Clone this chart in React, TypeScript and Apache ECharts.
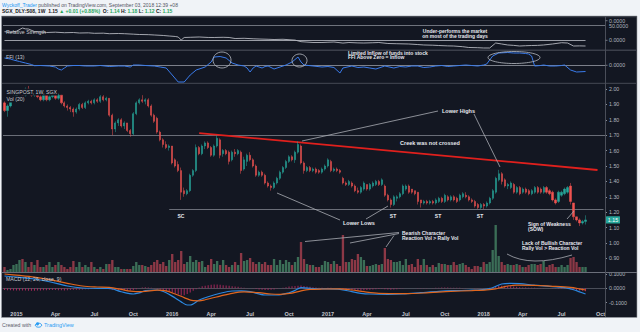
import React, { useEffect, useRef } from 'react';
import * as echarts from 'echarts';

// ---------- DATA ----------
const START_UTC = Date.UTC(2014, 11, 8); // first weekly bar (Mon 8 Dec 2014)
const WEEK_COUNT = 201; // bars up to late Aug 2018 + empty space to Oct 2018
const MONTHS = ['Jan', 'Feb', 'Mar', 'Apr', 'May', 'Jun', 'Jul', 'Aug', 'Sep', 'Oct', 'Nov', 'Dec'];

// weekly candles: [open, close, low, high]
const candles: number[][] = [
  [1.91,1.86,1.85,1.92],[1.86,1.89,1.82,1.90],[1.89,1.93,1.88,1.94],[1.93,1.95,1.92,1.96],[1.95,1.97,1.94,1.98],
  [1.97,1.99,1.96,2.00],[1.99,1.96,1.95,2.00],[1.96,2.00,1.95,2.01],[2.00,1.98,1.97,2.02],[1.98,1.96,1.95,1.99],
  [1.96,1.98,1.95,1.99],[1.98,1.95,1.94,1.99],[1.95,1.93,1.92,1.97],[1.93,1.96,1.92,1.97],[1.96,1.93,1.92,1.97],
  [1.93,1.95,1.92,1.96],[1.95,1.96,1.94,1.97],[1.96,1.94,1.93,1.97],[1.94,1.96,1.93,1.97],[1.96,1.91,1.90,1.96],
  [1.91,1.89,1.88,1.92],[1.89,1.88,1.86,1.90],[1.88,1.87,1.85,1.89],[1.87,1.85,1.82,1.88],[1.85,1.87,1.84,1.88],
  [1.87,1.90,1.86,1.91],[1.90,1.88,1.87,1.91],[1.88,1.91,1.87,1.92],[1.91,1.92,1.90,1.93],[1.92,1.91,1.90,1.93],
  [1.91,1.93,1.90,1.94],[1.93,1.92,1.91,1.94],[1.92,1.95,1.91,1.96],[1.95,1.93,1.92,1.96],[1.93,1.94,1.92,1.95],
  [1.94,1.83,1.82,1.94],[1.83,1.74,1.70,1.84],[1.74,1.78,1.72,1.79],[1.78,1.80,1.76,1.81],[1.80,1.76,1.75,1.81],
  [1.76,1.78,1.74,1.79],[1.78,1.73,1.72,1.78],[1.73,1.71,1.69,1.74],[1.71,1.84,1.70,1.85],[1.84,1.91,1.83,1.92],
  [1.91,1.93,1.90,1.94],[1.93,1.92,1.91,1.96],[1.92,1.93,1.90,1.94],[1.93,1.89,1.88,1.94],[1.89,1.83,1.82,1.90],
  [1.83,1.79,1.78,1.84],[1.81,1.72,1.71,1.82],[1.72,1.67,1.66,1.73],[1.67,1.64,1.62,1.68],[1.64,1.62,1.61,1.66],
  [1.62,1.63,1.60,1.64],[1.63,1.52,1.51,1.63],[1.54,1.50,1.49,1.55],[1.51,1.47,1.46,1.53],[1.47,1.33,1.28,1.49],
  [1.34,1.32,1.30,1.36],[1.32,1.34,1.31,1.35],[1.34,1.44,1.33,1.45],[1.44,1.47,1.43,1.48],[1.47,1.62,1.46,1.64],
  [1.62,1.58,1.57,1.63],[1.58,1.63,1.57,1.64],[1.63,1.65,1.61,1.66],[1.65,1.62,1.61,1.66],[1.62,1.57,1.56,1.63],
  [1.57,1.63,1.56,1.64],[1.63,1.68,1.62,1.70],[1.67,1.57,1.55,1.68],[1.58,1.60,1.56,1.61],[1.60,1.58,1.57,1.61],
  [1.59,1.53,1.51,1.60],[1.54,1.59,1.53,1.60],[1.59,1.58,1.56,1.61],[1.58,1.60,1.57,1.61],[1.59,1.47,1.45,1.60],
  [1.48,1.54,1.47,1.56],[1.53,1.57,1.50,1.58],[1.57,1.54,1.53,1.59],[1.54,1.50,1.49,1.55],[1.50,1.44,1.43,1.51],
  [1.44,1.46,1.43,1.47],[1.46,1.44,1.43,1.47],[1.44,1.39,1.38,1.45],[1.39,1.37,1.36,1.40],[1.37,1.36,1.34,1.38],
  [1.36,1.39,1.35,1.40],[1.39,1.42,1.38,1.43],[1.42,1.46,1.41,1.47],[1.46,1.49,1.45,1.50],[1.49,1.53,1.48,1.54],
  [1.53,1.56,1.52,1.57],[1.56,1.54,1.53,1.57],[1.54,1.59,1.52,1.60],[1.59,1.64,1.58,1.66],[1.63,1.52,1.51,1.64],
  [1.52,1.47,1.45,1.53],[1.47,1.49,1.46,1.50],[1.49,1.47,1.46,1.50],[1.47,1.48,1.46,1.49],[1.48,1.46,1.45,1.49],
  [1.47,1.46,1.45,1.48],[1.46,1.48,1.45,1.49],[1.48,1.50,1.47,1.51],[1.50,1.54,1.49,1.55],[1.53,1.47,1.46,1.54],
  [1.47,1.48,1.46,1.49],[1.48,1.47,1.46,1.49],[1.47,1.46,1.45,1.48],[1.42,1.39,1.38,1.43],[1.39,1.38,1.37,1.40],
  [1.38,1.40,1.37,1.41],[1.39,1.37,1.36,1.40],[1.37,1.34,1.33,1.38],[1.34,1.33,1.32,1.36],[1.33,1.36,1.32,1.37],
  [1.35,1.39,1.34,1.40],[1.38,1.35,1.34,1.38],[1.35,1.38,1.34,1.39],[1.37,1.39,1.36,1.40],[1.38,1.40,1.37,1.41],
  [1.40,1.38,1.37,1.41],[1.38,1.41,1.37,1.42],[1.37,1.31,1.30,1.38],[1.31,1.28,1.27,1.32],[1.28,1.25,1.23,1.29],
  [1.25,1.30,1.24,1.31],[1.29,1.30,1.27,1.31],[1.30,1.32,1.29,1.33],[1.32,1.37,1.31,1.38],[1.35,1.37,1.34,1.38],
  [1.37,1.33,1.32,1.38],[1.35,1.33,1.32,1.35],[1.34,1.32,1.31,1.34],[1.33,1.27,1.25,1.33],[1.28,1.26,1.23,1.28],
  [1.26,1.27,1.25,1.28],[1.27,1.26,1.25,1.28],[1.26,1.27,1.25,1.28],[1.27,1.26,1.25,1.28],[1.26,1.28,1.25,1.29],
  [1.27,1.29,1.26,1.30],[1.29,1.27,1.26,1.30],[1.27,1.31,1.26,1.32],[1.30,1.28,1.27,1.31],[1.28,1.30,1.27,1.31],
  [1.30,1.28,1.27,1.31],[1.29,1.27,1.26,1.30],[1.28,1.31,1.27,1.32],[1.30,1.32,1.29,1.33],[1.31,1.30,1.29,1.33],
  [1.30,1.28,1.27,1.31],[1.28,1.27,1.26,1.29],[1.27,1.24,1.23,1.28],[1.25,1.23,1.22,1.26],[1.23,1.25,1.22,1.26],
  [1.25,1.24,1.22,1.26],[1.24,1.26,1.23,1.27],[1.26,1.29,1.25,1.30],[1.29,1.34,1.28,1.35],[1.33,1.42,1.32,1.43],
  [1.41,1.45,1.40,1.475],[1.45,1.40,1.38,1.46],[1.41,1.37,1.36,1.42],[1.37,1.38,1.35,1.39],[1.36,1.39,1.35,1.40],
  [1.38,1.33,1.32,1.39],[1.33,1.36,1.32,1.37],[1.36,1.32,1.31,1.37],[1.33,1.35,1.32,1.36],[1.35,1.33,1.32,1.36],
  [1.34,1.32,1.31,1.35],[1.32,1.34,1.31,1.35],[1.33,1.36,1.32,1.37],[1.36,1.33,1.32,1.37],[1.35,1.33,1.32,1.36],
  [1.33,1.36,1.32,1.37],[1.36,1.33,1.32,1.37],[1.34,1.32,1.31,1.35],[1.33,1.28,1.27,1.34],[1.28,1.26,1.25,1.29],
  [1.27,1.33,1.26,1.34],[1.31,1.33,1.30,1.34],[1.32,1.35,1.31,1.36],[1.33,1.36,1.32,1.37],[1.37,1.27,1.25,1.39],
  [1.26,1.17,1.15,1.26],[1.17,1.15,1.14,1.17],[1.15,1.13,1.11,1.16],[1.13,1.14,1.12,1.15],[1.14,1.15,1.12,1.18],
];

// weekly volume (millions of shares)
const volume: number[] = [
  5,2,3,7,8,12,13,10,5,10, 7,12,5,5,7,10,5,7,10,7, 5,3,5,11,5,10,5,7,5,10, 5,3,5,3,8,8,12,5,5,3,
  3,3,3,6,10,7,7,6,5,7, 10,12,8,10,6,12,18,10,12,21, 8,10,16,10,12,10,11,5,7,13, 8,11,7,12,7,5,7,10,7,19,
  11,12,14,10,8,10,8,10,7,7, 13,7,12,8,12,10,7,10,15,30, 13,8,7,7,5,5,7,11,10,8, 11,8,6,37,10,10,13,12,18,15,
  12,6,6,7,8,7,8,24,13,12, 10,10,11,7,13,7,8,5,13,7, 13,7,5,7,5,9,8,8,7,7, 10,7,8,9,7,5,3,6,6,5,
  10,8,10,22,47,16,10,7,8,7, 7,8,7,5,5,7,8,8,7,8, 11,5,7,8,5,5,7,5,7,14, 15,10,5,5,5,
];

// Relative Strength [week index, value]
const relStrength: number[][] = [
  [0,55.5],[2,54],[4,57],[6,66.7],[7,64],[8,63.6],[10,56],[12,54.5],[14,53],[17,54],[20,52.4],[23,53],[25,51.5],
  [28,52],[30,50.6],[33,51],[35,49.4],[38,50],[40,49.4],[43,48],[45,47],[48,46.5],[50,45.5],[53,44],[55,42.4],
  [57,41],[58,39.4],[59,30.3],[60,37.9],[62,38.5],[65,39.4],[68,38],[70,37.9],[73,38.5],[75,37.9],[77,34.8],
  [80,35.5],[83,34],[85,33.3],[88,32.5],[90,31.8],[93,32.5],[95,31.2],[97,30],[99,25.2],[101,24],[103,22.7],
  [106,22.7],[108,23.5],[110,24.2],[113,21],[115,22.7],[118,21.5],[120,21.2],[123,22],[125,22.7],[128,19.7],
  [131,19],[135,18.2],[138,16.5],[140,15.2],[143,14.5],[145,13.6],[148,12.5],[150,12.1],[153,10],[155,7.6],
  [158,7],[160,6.1],[162,6.1],[164,21.2],[166,18.2],[168,15.2],[170,14],[172,12.1],[174,13],[176,13.6],
  [178,14],[180,15.2],[183,18.2],[186,22.1],[188,21.2],[190,12.1],[192,12.5],[194,12.1],
];
const rsUpperLevel = 75.8;
const rsLowerLevel = 28.8;

// Force (FFI 13) [week index, value]
const ffi: number[][] = [
  [0,7],[2,6],[3,5],[5,3.5],[7,2],[9,0.5],[10,-0.7],[12,-0.5],[15,-1],[17,-2],[18,-4],[19,-5],[20,-3],[21,-1],
  [23,-0.5],[25,-0.5],[27,-1],[30,-1],[32,-0.5],[35,-1.5],[38,-1],[40,-1],[42,-2],[43,0],[45,0],[47,-0.5],
  [50,-1],[52,-2],[54,-3],[56,-10],[58,-17],[60,-17],[62,-10],[64,-5],[67,-2],[69,3],[70,8],[72,8.5],[74,7],
  [76,2],[78,0],[80,-1],[81,-3],[82,-7],[83,-3],[84,-1],[86,-3],[87,-1.5],[88,-1],[90,-4],[92,-2],[94,0],
  [96,3],[98,8],[99,3],[100,0],[103,-1],[106,-2],[108,-1.5],[110,-2.5],[112,-8],[113,-3],[116,-1],[118,-2.5],
  [120,-2],[122,-3],[124,-4],[127,-1],[130,-3],[132,-1.5],[134,-2],[136,-1],[138,-1],[140,-2.5],[142,-2],
  [144,-1],[146,-0.5],[148,-1.5],[150,-1],[152,-0.5],[154,0],[156,-0.5],[158,-1],[160,0],[161,1],[163,9],
  [165,12],[168,12.5],[170,12],[172,12],[174,11.5],[175,11],[176,9],[177,-1],[179,-0.5],[180,0],[182,-1],
  [184,-1],[186,-0.5],[187,0],[189,-5],[191,-7],[194,-6.5],
];

// MACD (12, 26, close, 9)
const macdLine: number[][] = [
  [0,0.086],[5,0.077],[10,0.065],[15,0.046],[21,0.016],[26,0.002],[31,0],[35,-0.001],[39,-0.024],[43,-0.040],
  [45,-0.032],[47,-0.017],[51,-0.012],[54,-0.031],[57,-0.068],[59,-0.095],[61,-0.117],[62,-0.117],[65,-0.082],
  [68,-0.059],[72,-0.035],[76,-0.019],[79,-0.018],[82,-0.024],[87,-0.047],[91,-0.047],[95,-0.031],[97,-0.015],
  [99,0.004],[102,0],[105,-0.005],[108,-0.004],[112,-0.007],[116,-0.024],[119,-0.035],[122,-0.040],[128,-0.042],
  [133,-0.040],[139,-0.031],[145,-0.022],[150,-0.017],[155,-0.014],[158,-0.012],[161,-0.006],[163,0.004],
  [166,0.030],[169,0.035],[172,0.032],[177,0.022],[183,0.012],[187,0.005],[190,-0.010],[192,-0.025],[194,-0.040],
];
const signalLine: number[][] = [
  [0,0.100],[5,0.090],[10,0.078],[15,0.060],[21,0.035],[26,0.016],[31,0.009],[35,0.006],[39,-0.008],[42,-0.020],
  [46,-0.024],[51,-0.013],[54,-0.018],[57,-0.040],[60,-0.065],[63,-0.087],[65,-0.088],[67,-0.080],[72,-0.055],
  [76,-0.035],[80,-0.025],[85,-0.031],[89,-0.040],[92,-0.042],[96,-0.034],[99,-0.018],[102,-0.008],[106,-0.005],
  [112,-0.004],[116,-0.012],[120,-0.024],[125,-0.035],[134,-0.037],[140,-0.033],[149,-0.022],[156,-0.016],
  [161,-0.011],[164,-0.004],[167,0.012],[171,0.022],[177,0.020],[183,0.014],[189,0.006],[192,-0.004],[194,-0.012],
];
const macdHist: number[] = [
  -0.012,-0.013,-0.014,-0.015,-0.015,-0.016,-0.016,-0.016,-0.017,-0.017,
  -0.017,-0.016,-0.015,-0.014,-0.013,-0.012,-0.012,-0.012,-0.013,-0.014,
  -0.015,-0.014,-0.012,-0.011,-0.010,-0.010,-0.009,-0.007,-0.006,-0.005,
  -0.004,-0.004,-0.003,-0.002,-0.003,-0.006,-0.010,-0.012,-0.013,-0.014,
  -0.015,-0.016,-0.016,-0.012,-0.006,0.002,0.006,0.008,0.006,0.004,
  0.002,-0.003,-0.010,-0.016,-0.022,-0.026,-0.032,-0.038,-0.044,-0.050,
  -0.048,-0.040,-0.030,-0.018,-0.006,0.006,0.014,0.018,0.022,0.024,
  0.026,0.026,0.024,0.022,0.020,0.018,0.015,0.012,0.010,0.006,
  0.004,0.002,0.001,-0.002,-0.005,-0.008,-0.010,-0.012,-0.012,-0.011,
  -0.008,-0.004,0.000,0.004,0.008,0.012,0.014,0.016,0.018,0.020,
  0.016,0.012,0.010,0.008,0.006,0.004,0.003,0.002,0.004,0.004,
  0.002,0.000,-0.002,-0.006,-0.010,-0.012,-0.013,-0.014,-0.015,-0.015,
  -0.014,-0.012,-0.010,-0.008,-0.006,-0.005,-0.004,-0.006,-0.008,-0.010,
  -0.009,-0.007,-0.004,-0.002,0.000,0.001,0.001,0.000,-0.001,-0.002,
  -0.002,-0.001,0.000,0.002,0.003,0.004,0.005,0.005,0.005,0.004,
  0.004,0.003,0.003,0.002,0.002,0.001,0.000,-0.001,-0.002,-0.002,
  -0.001,0.001,0.004,0.008,0.012,0.016,0.018,0.018,0.016,0.014,
  0.012,0.010,0.008,0.006,0.005,0.004,0.003,0.003,0.002,0.002,
  0.002,0.001,0.000,-0.001,-0.002,-0.003,-0.003,-0.003,-0.004,-0.006,
  -0.010,-0.013,-0.016,-0.018,-0.020,
];

// tick labels
const priceTicks = [0.9, 1.0, 1.1, 1.2, 1.3, 1.4, 1.5, 1.6, 1.7, 1.8, 1.9, 2.0];
const macdTicks = [-0.1, 0, 0.1];
const lastPrice = 1.15;
const creekLevel = 1.7;
const stLevel = 1.22;
const trendLine = [[65, 1.714], [197.5, 1.474]];

// ---------- STYLE ----------
const FONT = '"Liberation Sans", Arial, sans-serif';
const BG = '#131722';
const TXT = '#d1d4dc';
const AX = '#b2b5be';
const UP = '#26a69a';
const DOWN = '#ef5350';
const L = 3, W = 602;

const dates = Array.from({ length: WEEK_COUNT }, (_, i) =>
  new Date(START_UTC + i * 7 * 86400000).toISOString().slice(0, 10));

function txt(x: number, y: number, text: string, o: any = {}) {
  const align = o.align || 'left';
  return {
    type: 'text', x, y, z: 60, silent: true,
    style: {
      text, fill: TXT, fontSize: 5.5, fontFamily: FONT,
      textAlign: align, align, textVerticalAlign: 'middle', verticalAlign: 'middle',
      ...o,
    },
  };
}
function ln(x1: number, y1: number, x2: number, y2: number, stroke = '#a9acb4', w = 0.8) {
  return { type: 'line', z: 55, silent: true, shape: { x1, y1, x2, y2 }, style: { stroke, lineWidth: w } };
}
function hline(y: number, h: number, fill: string) {
  return { type: 'rect', z: 5, silent: true, shape: { x: 2, y, width: 635, height: h }, style: { fill } };
}

function buildOption() {
  const xAxes = [0, 1, 2, 3, 4].map((g) => ({
    type: 'category', gridIndex: g, data: dates, boundaryGap: true,
    axisLine: { show: g === 4, lineStyle: { color: '#4a4e59', width: 1 } },
    axisTick: { show: false }, splitLine: { show: false },
    axisLabel: g === 4 ? {
      show: true, color: '#c3c6ce', fontSize: 5.5, fontFamily: FONT, fontWeight: 'bold', margin: 3,
      interval: (_i: number, v: string) => {
        const d = new Date(v);
        return d.getUTCDate() <= 7 && d.getUTCMonth() % 3 === 0;
      },
      formatter: (v: string) => {
        const d = new Date(v);
        return d.getUTCMonth() === 0 ? String(d.getUTCFullYear()) : MONTHS[d.getUTCMonth()];
      },
    } : { show: false },
  }));

  const hidden = (g: number, min: number, max: number) => ({
    type: 'value', gridIndex: g, min, max, show: false, splitLine: { show: false },
  });

  const yAxes = [
    hidden(0, 0, 100),
    hidden(1, -18, 14),
    {
      type: 'value', gridIndex: 2, position: 'right', min: 0.8117, max: 2.0325, scale: true,
      splitLine: { show: false }, axisLine: { show: false },
      axisTick: { show: true, length: 2, lineStyle: { color: '#8a8e99' }, customValues: priceTicks },
      axisLabel: {
        color: AX, fontSize: 5.3, fontFamily: FONT, margin: 4, customValues: priceTicks,
        formatter: (v: number) => v.toFixed(2),
      },
    },
    hidden(3, 0, 50),
    {
      type: 'value', gridIndex: 4, position: 'right', min: -0.138, max: 0.107,
      splitLine: { show: false }, axisLine: { show: false },
      axisTick: { show: true, length: 2, lineStyle: { color: '#8a8e99' }, customValues: macdTicks },
      axisLabel: {
        color: AX, fontSize: 5.3, fontFamily: FONT, margin: 4, customValues: macdTicks,
        formatter: (v: number) => v.toFixed(4),
      },
    },
  ];

  const volData = volume.map((v, i) => {
    const c = candles[i];
    const up = c[1] >= c[0];
    return { value: v, itemStyle: { color: up ? 'rgba(84,165,120,0.62)' : 'rgba(214,78,92,0.62)' } };
  });

  const series: any[] = [
    {
      type: 'line', name: 'RS', xAxisIndex: 0, yAxisIndex: 0, data: relStrength, showSymbol: false,
      lineStyle: { color: '#b4b7be', width: 0.9 }, z: 10,
      markLine: {
        silent: true, symbol: 'none', label: { show: false },
        data: [
          { yAxis: rsUpperLevel, lineStyle: { color: '#6f737d', width: 1, type: 'solid' } },
          [{ coord: [0, rsLowerLevel] }, { coord: [194, rsLowerLevel], lineStyle: { color: '#9a9da6', width: 1, type: 'solid' } }],
        ],
      },
    },
    {
      type: 'line', name: 'FFI', xAxisIndex: 1, yAxisIndex: 1, data: ffi, showSymbol: false,
      lineStyle: { color: '#3a7bea', width: 1 }, z: 10,
      markLine: {
        silent: true, symbol: 'none', label: { show: false },
        data: [{ yAxis: 0, lineStyle: { color: '#7c808a', width: 1, type: 'solid' } }],
      },
    },
    {
      type: 'candlestick', name: 'SINGPOST', xAxisIndex: 2, yAxisIndex: 2, data: candles, barWidth: 1.7, z: 10,
      itemStyle: { color: UP, color0: DOWN, borderColor: UP, borderColor0: DOWN, borderWidth: 0.5 },
      markLine: {
        silent: true, symbol: 'none',
        data: [
          { yAxis: creekLevel, label: { show: false }, lineStyle: { color: '#6a6e78', width: 1.2, type: 'solid' } },
          [{ coord: [54.5, stLevel] }, { coord: [200.4, stLevel], label: { show: false }, lineStyle: { color: '#6a6e78', width: 1, type: 'solid' } }],
          [{ coord: trendLine[0] }, { coord: trendLine[1], label: { show: false }, lineStyle: { color: '#e0201d', width: 1.8, type: 'solid' } }],
        ],
      },
    },
    { type: 'bar', name: 'Vol', xAxisIndex: 3, yAxisIndex: 3, data: volData, barWidth: '78%', z: 4 },
    {
      type: 'bar', name: 'Hist', xAxisIndex: 4, yAxisIndex: 4, data: macdHist, barWidth: 1,
      itemStyle: { color: '#a8275c' }, z: 6,
    },
    {
      type: 'line', name: 'MACD', xAxisIndex: 4, yAxisIndex: 4, data: macdLine, showSymbol: false, smooth: 0.3,
      lineStyle: { color: '#2b88e0', width: 1.2 }, z: 10,
    },
    {
      type: 'line', name: 'Signal', xAxisIndex: 4, yAxisIndex: 4, data: signalLine, showSymbol: false, smooth: 0.3,
      lineStyle: { color: '#e0661e', width: 1.2 }, z: 11,
    },
  ];

  const graphic: any[] = [
    { id: 'panel', type: 'rect', z: -10, silent: true, shape: { x: 1.5, y: 16, width: 635.5, height: 301.5 }, style: { fill: BG, stroke: '#9ea2aa', lineWidth: 0.6 } },
    hline(16.5, 0.8, '#4a4e59'),
    hline(49.5, 1.6, '#3b3f4a'),
    hline(82.8, 1.2, '#3b3f4a'),
    hline(272, 0.9, '#6b6f7a'),
    { type: 'line', z: 5, silent: true, shape: { x1: 605.5, y1: 16.5, x2: 605.5, y2: 317 }, style: { stroke: '#4a4e59', lineWidth: 1 } },
    // header
    {
      type: 'text', x: 2, y: 5, z: 60, silent: true,
      style: {
        text: '{a|Wyckoff_Trader} published on TradingView.com, September 03, 2018 12:39 +08',
        fill: '#50535e', fontSize: 5, fontFamily: FONT, textVerticalAlign: 'middle', verticalAlign: 'middle',
        rich: { a: { fill: '#2196f3', fontSize: 5, fontFamily: FONT } },
      },
    },
    {
      type: 'text', x: 2, y: 11.3, z: 60, silent: true,
      style: {
        text: '{b|SGX_DLY:S08, 1W}  {b|1.15} {g|▲ +0.01 (+0.88%)}  {b|O:} {g|1.14} {b|H:} {g|1.18} {b|L:} {g|1.12} {b|C:} {g|1.15}',
        fill: '#131722', fontSize: 5, fontFamily: FONT, textVerticalAlign: 'middle', verticalAlign: 'middle',
        rich: {
          b: { fill: '#131722', fontSize: 5, fontWeight: 'bold', fontFamily: FONT },
          g: { fill: '#26a65b', fontSize: 5, fontWeight: 'bold', fontFamily: FONT },
        },
      },
    },
    // footer
    txt(2, 325, 'Created with', { fill: '#5d606b', fontSize: 5.2 }),
    { type: 'ellipse', z: 60, silent: true, shape: { cx: 38.5, cy: 325.2, rx: 3.2, ry: 2 }, style: { fill: 'none', stroke: '#2a9df4', lineWidth: 1 } },
    { type: 'circle', z: 60, silent: true, shape: { cx: 37.5, cy: 323.8, r: 1.6 }, style: { fill: '#2a9df4' } },
    txt(44, 325, 'TradingView', { fill: '#2a9df4', fontSize: 5.4 }),
    // panel titles
    txt(6, 32.3, 'Relative Strength', { fill: '#c8cad0', fontSize: 5.2 }),
    txt(6, 57.3, 'FFI (13)', { fill: '#c8cad0', fontSize: 5.2 }),
    txt(5.5, 92, 'SINGPOST, 1W, SGX', { fill: '#c8cad0', fontSize: 5.2, backgroundColor: BG, padding: [1, 1] }),
    txt(5.5, 99, 'Vol (20)', { fill: '#c8cad0', fontSize: 5.2, backgroundColor: BG, padding: [1, 1] }),
    txt(6, 279, 'MACD (12, 26, close, 9)', { fill: '#c8cad0', fontSize: 5.2 }),
    // indicator scale labels
    txt(609, 20.7, '0.0000', { fill: AX, fontSize: 5.3 }),
    txt(609, 26.3, '50.0000', { fill: AX, fontSize: 5.3 }),
    txt(609, 40.3, '0.0000', { fill: AX, fontSize: 5.3 }),
    txt(609, 65.3, '0.0000', { fill: AX, fontSize: 5.3 }),
    ln(605.5, 20.7, 607.5, 20.7, '#8a8e99'), ln(605.5, 40.3, 607.5, 40.3, '#8a8e99'), ln(605.5, 65.3, 607.5, 65.3, '#8a8e99'),
    // annotations
    txt(455, 33.2, 'Under-performs the market\non most of the trading days', { align: 'center', fontWeight: 'bold', fontSize: 5, lineHeight: 4.6, fill: '#e6e8ee' }),
    txt(348, 55, 'Limited Inflow of funds into stock\nFFI Above Zero = Inflow', { fontWeight: 'bold', fontSize: 5, lineHeight: 4.6, fill: '#e6e8ee' }),
    { type: 'ellipse', z: 55, silent: true, shape: { cx: 222, cy: 60, rx: 9, ry: 8 }, style: { fill: 'none', stroke: '#b9bcc4', lineWidth: 0.8 } },
    { type: 'ellipse', z: 55, silent: true, shape: { cx: 299.5, cy: 60.5, rx: 7.5, ry: 6.5 }, style: { fill: 'none', stroke: '#b9bcc4', lineWidth: 0.8 } },
    { type: 'ellipse', z: 55, silent: true, shape: { cx: 514, cy: 57.5, rx: 26, ry: 6 }, style: { fill: 'none', stroke: '#b9bcc4', lineWidth: 0.8 } },
    txt(442, 111, 'Lower Highs', { fontWeight: 'bold', fill: '#e6e8ee' }),
    ln(302, 141, 438, 111), ln(474, 114, 500, 167),
    txt(430, 143, 'Creek was not crossed', { align: 'center', fontWeight: 'bold', fill: '#e6e8ee' }),
    txt(343, 223, 'Lower Lows', { fontWeight: 'bold', fill: '#e6e8ee' }),
    ln(277, 193, 340, 220), ln(366, 219, 388, 206),
    txt(181, 215.5, 'SC', { align: 'center', fontWeight: 'bold', fontSize: 5, fill: '#e6e8ee' }),
    txt(393, 215.5, 'ST', { align: 'center', fontWeight: 'bold', fontSize: 5, fill: '#e6e8ee' }),
    txt(438, 215.5, 'ST', { align: 'center', fontWeight: 'bold', fontSize: 5, fill: '#e6e8ee' }),
    txt(480, 215.5, 'ST', { align: 'center', fontWeight: 'bold', fontSize: 5, fill: '#e6e8ee' }),
    txt(528, 226.3, 'Sign of Weakness\n(SOW)', { fontWeight: 'bold', fontSize: 5, lineHeight: 4.8, fill: '#e6e8ee' }),
    ln(567, 219, 574, 211),
    txt(402, 235.5, 'Bearish Character\nReaction Vol > Rally Vol', { fontWeight: 'bold', fontSize: 5, lineHeight: 4.8, fill: '#e6e8ee' }),
    ln(305, 241.5, 399, 232.5), ln(350, 243, 399, 233.5), ln(394, 235.5, 386, 247),
    txt(522, 245.5, 'Lack of Bullish Character\nRally Vol > Reaction Vol', { fontWeight: 'bold', fontSize: 5, lineHeight: 4.8, fill: '#e6e8ee' }),
    { type: 'bezierCurve', z: 55, silent: true, shape: { x1: 507, y1: 254, cpx1: 530.5, cpy1: 267.5, x2: 572, y2: 255 }, style: { fill: 'none', stroke: '#a9acb4', lineWidth: 0.8 } },
  ];

  return {
    animation: false,
    backgroundColor: '#f0f3f7',
    textStyle: { fontFamily: FONT },
    grid: [
      { left: L, width: W, top: 17, height: 33 },
      { left: L, width: W, top: 51, height: 32 },
      { left: L, width: W, top: 84, height: 188 },
      { left: L, width: W, top: 222, height: 50 },
      { left: L, width: W, top: 273, height: 35 },
    ],
    xAxis: xAxes,
    yAxis: yAxes,
    series,
    graphic,
  };
}

export default function App() {
  const ref = useRef<HTMLDivElement>(null);
  useEffect(() => {
    if (!ref.current) return;
    const chart = echarts.init(ref.current, null, { renderer: 'svg' });
    const option: any = buildOption();
    chart.setOption(option);
    // last-price tag placed on the price scale
    const py = chart.convertToPixel({ yAxisIndex: 2 } as any, lastPrice) as unknown as number;
    chart.setOption({
      graphic: [
        ...option.graphic,
        { type: 'rect', z: 70, silent: true, shape: { x: 606, y: py - 3.6, width: 14, height: 7.2, r: 0.5 }, style: { fill: UP } },
        { type: 'text', x: 613, y: py, z: 71, silent: true, style: { text: lastPrice.toFixed(2), fill: '#ffffff', fontSize: 5.3, fontFamily: FONT, textAlign: 'center', align: 'center', textVerticalAlign: 'middle', verticalAlign: 'middle' } },
      ],
    });
    return () => chart.dispose();
  }, []);
  return <div ref={ref} style={{ position: 'fixed', left: 0, top: 0, width: 640, height: 332 }} />;
}
